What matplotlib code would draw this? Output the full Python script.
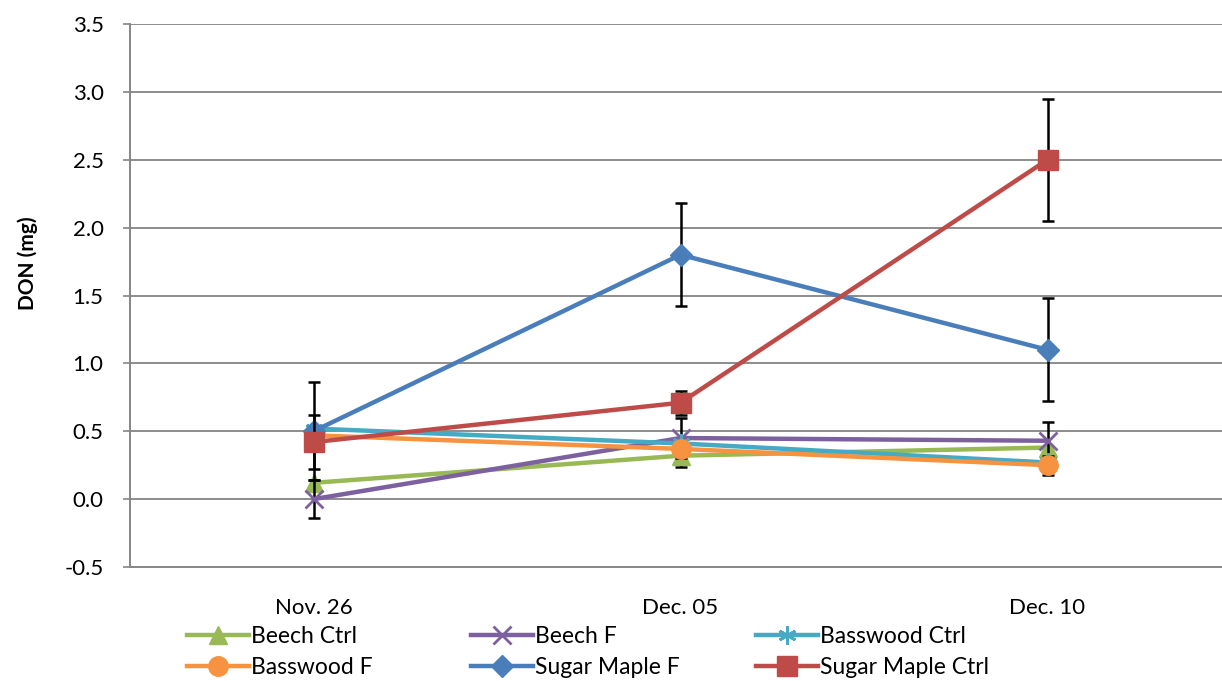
import numpy as np
import matplotlib
matplotlib.use('Agg')
import matplotlib.pyplot as plt

dates = ['Nov. 26', 'Dec. 05', 'Dec. 10']
names = ['Beech Ctrl', 'Beech F', 'Basswood Ctrl', 'Basswood F',
         'Sugar Maple F', 'Sugar Maple Ctrl']

beech_ctrl = [0.12, 0.32, 0.38]
beech_f = [0.00, 0.45, 0.43]
basswood_ctrl = [0.52, 0.41, 0.27]
basswood_f = [0.47, 0.37, 0.25]
maple_f = [0.50, 1.80, 1.10]
maple_ctrl = [0.42, 0.71, 2.50]

# error bars (0 = no bar shown)
err_beech_ctrl = [0.0, 0.08, 0.0]
err_beech_f = [0.14, 0.15, 0.14]
err_basswood_ctrl = [0.0, 0.0, 0.0]
err_basswood_f = [0.0, 0.0, 0.07]
err_maple_f = [0.36, 0.38, 0.38]
err_maple_ctrl = [0.20, 0.09, 0.45]

series = [beech_ctrl, beech_f, basswood_ctrl, basswood_f, maple_f, maple_ctrl]
errors = [err_beech_ctrl, err_beech_f, err_basswood_ctrl, err_basswood_f,
          err_maple_f, err_maple_ctrl]
colors = ['#98B954', '#7D60A0', '#46AAC5', '#F69240', '#4A7EBB', '#BE4B48']
markers = ['^', 'x', (6, 2, 0), 'o', 'D', 's']
msizes = [13, 13, 13, 14, 11, 14]

plt.rcParams['font.family'] = ['Lato', 'DejaVu Sans']

W, H = 1222, 681
fig = plt.figure(figsize=(W / 100, H / 100), dpi=100)
ax = fig.add_axes([130 / W, 1 - 567 / H, (1231 - 130) / W, (567 - 24) / H])

x = np.arange(len(dates))
handles = []
for i in range(len(series)):
    y = np.array(series[i])
    e = np.array(errors[i])
    mask = e > 0
    z = 3 + i
    if mask.any():
        ax.errorbar(x[mask], y[mask], yerr=e[mask], fmt='none', ecolor='black',
                    elinewidth=1.8, capsize=4.5, capthick=1.8, zorder=z)
    h, = ax.plot(x, y, color=colors[i], lw=3.2, marker=markers[i],
                 ms=msizes[i], mec=colors[i],
                 mew=2 if markers[i] in ('x', (6, 2, 0)) else 1,
                 zorder=z + 0.5, solid_joinstyle='round')
    handles.append(h)

ax.set_xlim(-0.5, 2.5)
ax.set_ylim(-0.5, 3.5)
yt = np.arange(-0.5, 3.51, 0.5)
ax.set_yticks(yt)
ax.set_yticklabels(['%.1f' % v for v in yt], fontsize=16)
ax.set_xticks(x)
ax.set_xticklabels(dates, fontsize=16)
ax.tick_params(axis='x', length=0, pad=22)
ax.tick_params(axis='y', length=5, width=1.2, color='#868686', pad=14)
ax.yaxis.grid(True, color='#8C8C8C', lw=1.4)
ax.set_axisbelow(True)
for s in ['top', 'right']:
    ax.spines[s].set_visible(False)
for s in ['left', 'bottom']:
    ax.spines[s].set_color('#868686')
    ax.spines[s].set_linewidth(1.4)

fig.text(28 / W, 1 - 263 / H, 'DON (mg)', rotation=90, ha='center', va='center',
         fontsize=15, fontweight='bold')

# legend: three columns of two entries
col_x = [187, 471, 756]
for c in range(3):
    hs = [handles[c], handles[c + 3]]
    ls = [names[c], names[c + 3]]
    fig.legend(hs, ls, loc='upper left', bbox_to_anchor=(col_x[c] / W, 1 - 626 / H),
               frameon=False, fontsize=16.5, handlelength=2.7, handletextpad=0.1,
               labelspacing=0.42, borderpad=0, borderaxespad=0)

fig.savefig('out.png', dpi=100)
